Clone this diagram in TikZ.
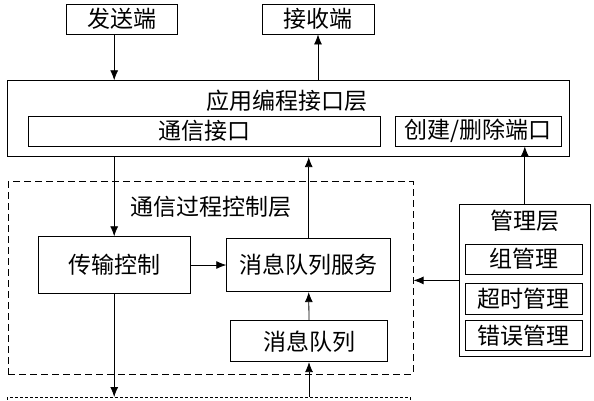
\documentclass[tikz,border=0pt]{standalone}
\usepackage{fontspec}
\setmainfont{Noto Sans CJK SC}
\usetikzlibrary{arrows.meta}
\tikzset{
  blk/.style={draw, line width=0.8pt, inner sep=0pt},
  layer/.style={draw, line width=1.1pt, dash pattern=on 7pt off 4pt, inner sep=0pt},
  arr/.style={-{Latex[length=10pt,width=8pt]}, line width=0.8pt},
}

\begin{document}
\begin{tikzpicture}[x=1pt, y=-1pt, font=\fontsize{23}{25}\selectfont]
  \path[use as bounding box] (0,0) rectangle (594,400);
  \clip (0,0) rectangle (594,400);

  %%%%% ends %%%%%
  \node[blk, minimum width=111, minimum height=30] (send) at (121.5, 19) {发送端};
  \node[blk, minimum width=112, minimum height=30] (recv) at (318, 19) {接收端};

  %%%%% api layer %%%%%
  \node[blk, minimum width=561.7, minimum height=76] (api) at (288.2, 118.7) {};
  \node (apit) at (287, 101) {应用编程接口层};
  \node[blk, minimum width=352.4, minimum height=30] (ifc) at (204.5, 131) {通信接口};
  \node[blk, minimum width=166.7, minimum height=30] (cre) at (478.3, 131) {创建/删除端口};

  %%%%% control layer %%%%%
  \node[layer, minimum width=404.7, minimum height=192.3] (ctl) at (210.7, 277.9) {};
  \node (ctlt) at (211, 207) {通信过程控制层};
  \node[blk, minimum width=151.7, minimum height=56.6] (trans) at (114.2, 265) {传输控制};
  \node[blk, minimum width=164, minimum height=53.4] (msgsvc) at (308.7, 265) {消息队列服务};
  \node[blk, minimum width=156.6, minimum height=41] (msgq) at (309, 341.2) {消息队列};

  %%%%% management layer %%%%%
  \node[blk, minimum width=131.7, minimum height=151.2] (mgr) at (524.8, 280.4) {};
  \node (mgrt) at (525, 220.5) {管理层};
  \node[blk, minimum width=117.3, minimum height=29.7] (grp) at (523.7, 259.2) {组管理};
  \node[blk, minimum width=117.3, minimum height=30.7] (tout) at (523.7, 298.7) {超时管理};
  \node[blk, minimum width=117.3, minimum height=30] (err) at (523.7, 335.7) {错误管理};

  %%%%% lower layer (cut off) %%%%%
  \node[draw, line width=0.6pt, dash pattern=on 3pt off 2pt, minimum width=402.7, minimum height=40,
        inner sep=0pt] (low) at (208.7, 417.3) {};

  %%%%% connectors %%%%%
  \draw[arr] (send.south -| trans) -- (api.north -| trans);
  \draw[arr] (api.north -| recv) -- (recv.south);
  \draw[arr] (api.south -| trans) -- (trans.north);
  \draw[arr] (trans.east) -- (msgsvc.west);
  \draw[arr] (msgsvc.north) -- (api.south -| msgsvc);
  \draw[arr] (msgq.north) -- (msgsvc.south);
  \draw[arr] (trans.south) -- (low.north -| trans);
  \draw[arr] (low.north -| msgq) -- (msgq.south);
  \draw[arr] (mgr.north) -- (cre.south -| mgr);
  \draw[arr] (mgr.west) -- (ctl.east |- mgr);
\end{tikzpicture}
\end{document}
